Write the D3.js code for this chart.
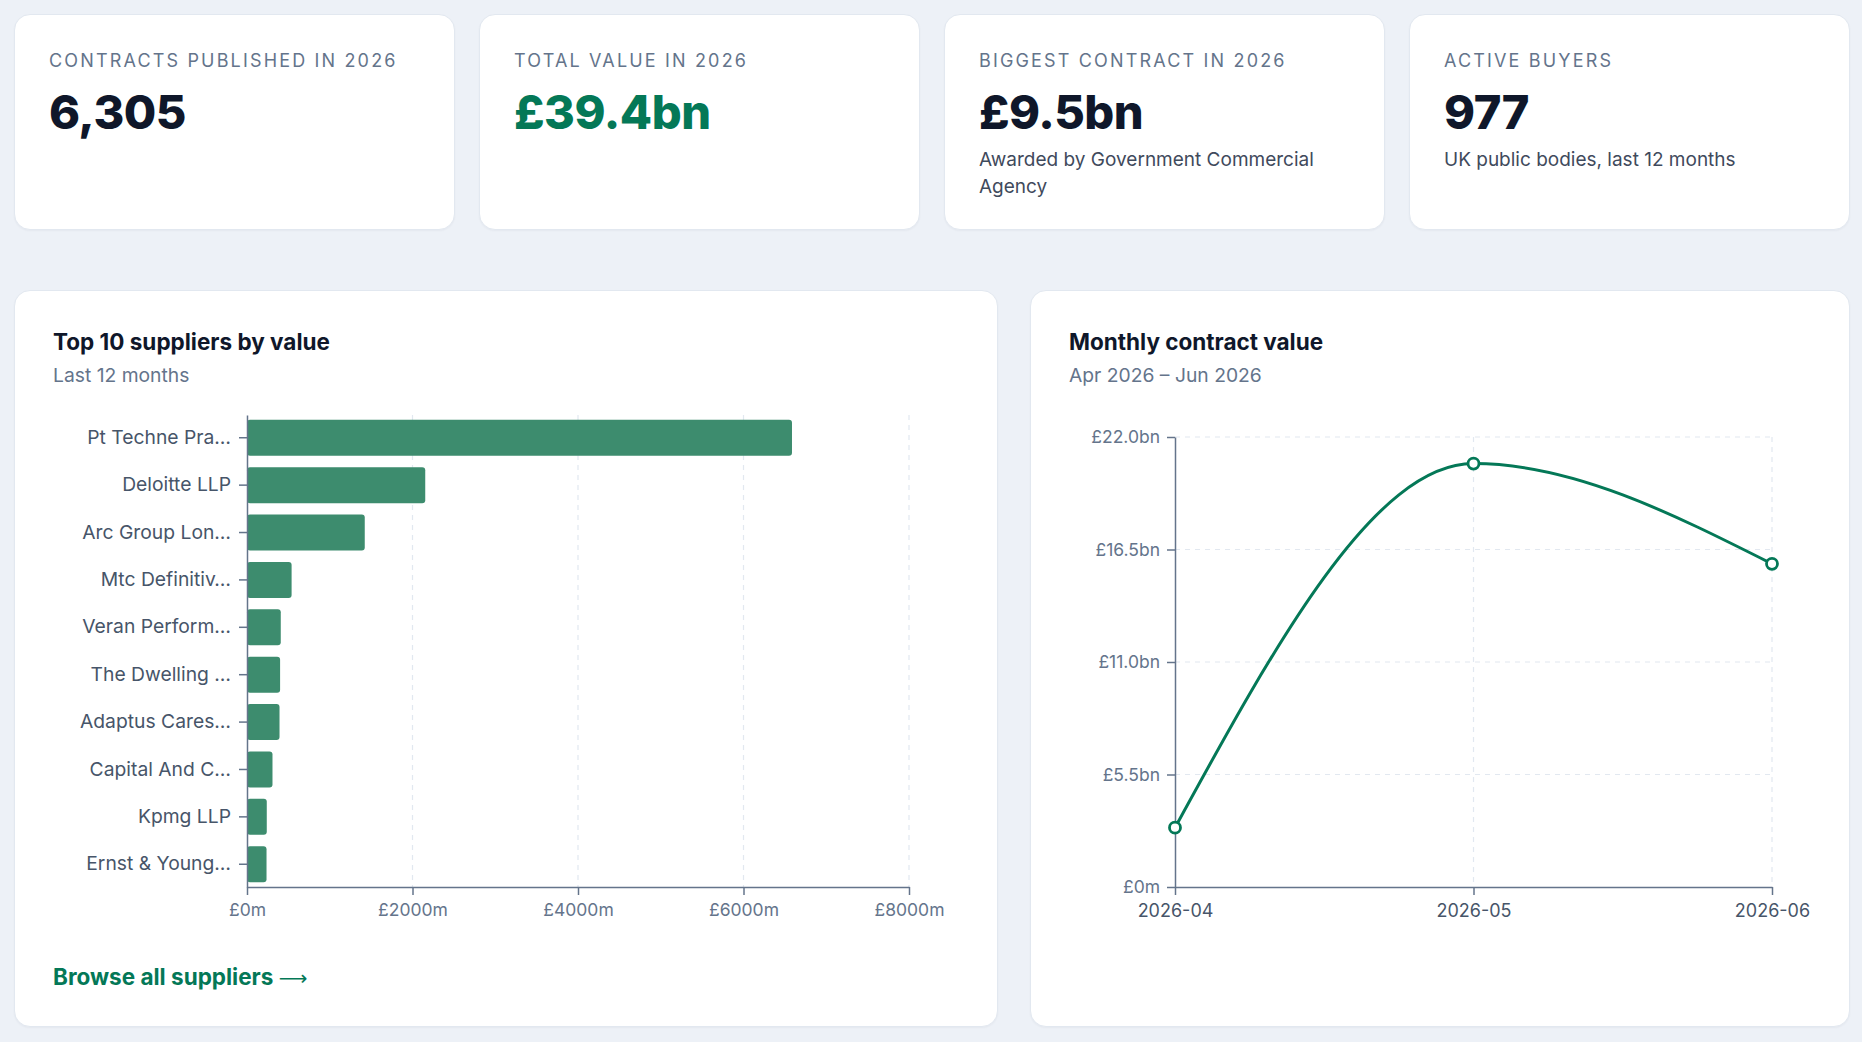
<!DOCTYPE html>
<html>
<head>
<meta charset="utf-8">
<script src="https://cdn.jsdelivr.net/npm/d3@7"></script>
<style>
  html, body { margin: 0; padding: 0; }
  body {
    background: #edf1f7;
    font-family: Inter, "Noto Sans", sans-serif;
    width: 1862px;
    height: 1042px;
    box-sizing: border-box;
    padding: 14px 12px 0 14px;
    overflow: hidden;
  }
  .stats {
    display: grid;
    grid-template-columns: repeat(4, 1fr);
    gap: 24px;
  }
  .card, .panel {
    background: #fff;
    border: 1px solid #e2e8f0;
    border-radius: 16px;
    box-shadow: 0 1px 2px rgba(15, 23, 42, 0.04);
    box-sizing: border-box;
  }
  .card { height: 216px; padding: 35px 30px 0 34px; }
  .card .label {
    font-size: 18px; line-height: 22px; color: #64748b;
    letter-spacing: 0.12em; text-transform: uppercase; white-space: nowrap;
  }
  .card .value {
    font-size: 47px; line-height: 52px; font-weight: 800; color: #0f172a;
    margin-top: 14px; letter-spacing: -0.01em;
  }
  .card .value.green { color: #047857; }
  .card .sub { font-size: 19px; line-height: 27px; color: #3f4a5c; margin-top: 8px; }
  .panels {
    display: grid;
    grid-template-columns: 1.2fr 1fr;
    gap: 32px;
    margin-top: 60px;
  }
  .panel { height: 737px; position: relative; }
  .panel svg { position: absolute; left: 0; top: 0; }
  .panel h2 { margin: 0; font-size: 22.5px; line-height: 28px; font-weight: 700; color: #0f172a; position: absolute; left: 38px; top: 37px; white-space: nowrap; }
  .panel .subtitle { font-size: 19.3px; line-height: 24px; color: #64748b; position: absolute; left: 38px; top: 72px; white-space: nowrap; }
  .panel .link { font-size: 22.5px; font-weight: 700; color: #047857; position: absolute; left: 38px; top: 672px; line-height: 28px; text-decoration: none; white-space: nowrap; }
  .panel .link .arrow { font-family: "DejaVu Sans", sans-serif; font-weight: 400; font-size: 20px; }
  .tick text { font-family: Inter, "Noto Sans", sans-serif; }
</style>
</head>
<body>
<div class="stats" id="stats"></div>
<div class="panels">
  <div class="panel" id="suppliers">
    <h2>Top 10 suppliers by value</h2>
    <div class="subtitle">Last 12 months</div>
    <a class="link" href="#">Browse all suppliers <span class="arrow">⟶</span></a>
  </div>
  <div class="panel" id="monthly">
    <h2>Monthly contract value</h2>
    <div class="subtitle">Apr 2026 – Jun 2026</div>
  </div>
</div>
<script>
// headline figures
const statLabels = ["Contracts published in 2026", "Total value in 2026", "Biggest contract in 2026", "Active buyers"];
const statValues = ["6,305", "£39.4bn", "£9.5bn", "977"];
const statNotes = ["", "", "Awarded by Government Commercial Agency", "UK public bodies, last 12 months"];

// top suppliers, £m
const supplierNames = ["Pt Techne Pra…", "Deloitte LLP", "Arc Group Lon…", "Mtc Definitiv…", "Veran Perform…",
  "The Dwelling …", "Adaptus Cares…", "Capital And C…", "Kpmg LLP", "Ernst & Young…"];
const supplierValues = [6586, 2154, 1423, 539, 408, 400, 393, 308, 239, 236];
const supplierTicks = [0, 2000, 4000, 6000, 8000];

// monthly totals, £bn
const months = ["2026-04", "2026-05", "2026-06"];
const monthValues = [2.9, 20.7, 15.8];
const monthTicks = [0, 5.5, 11, 16.5, 22];

const GREEN = "#047857";
const BAR = "#3d8c6e";
const AXIS = "#64748b";
const GRID = "#e2e8f0";

// stat cards
const cards = d3.select("#stats").selectAll(".card")
  .data(statLabels)
  .enter()
  .append("div")
  .attr("class", "card");
cards.append("div").attr("class", "label").text(d => d);
cards.append("div")
  .attr("class", (d, i) => i === 1 ? "value green" : "value")
  .text((d, i) => statValues[i]);
cards.filter((d, i) => statNotes[i] !== "")
  .append("div").attr("class", "sub").text(d => statNotes[statLabels.indexOf(d)]);

function styleAxis(g) {
  g.select(".domain").attr("stroke", AXIS).attr("stroke-width", 1.5);
  g.selectAll(".tick line").attr("stroke", AXIS).attr("stroke-width", 1.5);
  g.selectAll(".tick text").attr("fill", AXIS).attr("font-size", 17.5);
}

// bar chart of suppliers
{
  const panel = d3.select("#suppliers");
  const W = panel.node().getBoundingClientRect().width;
  const H = 737;
  const m = {top: 124, right: W - 894, bottom: 141, left: 232};
  const svg = panel.append("svg").attr("width", W).attr("height", H);

  const x = d3.scaleLinear()
    .domain([0, d3.max(supplierTicks)])
    .range([m.left, W - m.right]);
  const y = d3.scaleBand()
    .domain(supplierNames)
    .range([m.top, H - m.bottom])
    .paddingInner(0.24)
    .paddingOuter(0.1);

  // dashed vertical grid
  svg.append("g")
    .selectAll("line")
    .data(supplierTicks.slice(1))
    .enter()
    .append("line")
    .attr("x1", d => x(d)).attr("x2", d => x(d))
    .attr("y1", m.top).attr("y2", H - m.bottom)
    .attr("stroke", GRID).attr("stroke-width", 1.2)
    .attr("stroke-dasharray", "5 5");

  svg.append("g")
    .selectAll("rect")
    .data(supplierValues)
    .enter()
    .append("rect")
    .attr("x", x(0))
    .attr("y", (d, i) => y(supplierNames[i]))
    .attr("width", d => x(d) - x(0))
    .attr("height", y.bandwidth())
    .attr("rx", 3)
    .attr("fill", BAR);

  svg.append("g")
    .attr("transform", `translate(0, ${H - m.bottom})`)
    .call(d3.axisBottom(x).tickValues(supplierTicks).tickFormat(d => `£${d}m`)
      .tickSize(8).tickSizeOuter(0).tickPadding(9))
    .call(styleAxis);

  svg.append("g")
    .attr("transform", `translate(${m.left}, 0)`)
    .call(d3.axisLeft(y).tickSize(8).tickSizeOuter(0).tickPadding(8))
    .call(styleAxis)
    .call(g => g.selectAll(".tick text").attr("fill", "#475569").attr("font-size", 19.3));
}

// line chart of monthly value
{
  const panel = d3.select("#monthly");
  const W = panel.node().getBoundingClientRect().width;
  const H = 737;
  const m = {top: 146, right: W - 741, bottom: 141, left: 144};
  const svg = panel.append("svg").attr("width", W).attr("height", H);

  const x = d3.scalePoint()
    .domain(months)
    .range([m.left, W - m.right]);
  const y = d3.scaleLinear()
    .domain([0, d3.max(monthTicks)])
    .range([H - m.bottom, m.top]);

  const grid = svg.append("g")
    .attr("stroke", GRID).attr("stroke-width", 1.2)
    .attr("stroke-dasharray", "5 5");
  grid.selectAll(".h")
    .data(monthTicks.slice(1))
    .enter()
    .append("line")
    .attr("x1", m.left).attr("x2", W - m.right)
    .attr("y1", d => y(d)).attr("y2", d => y(d));
  grid.selectAll(".v")
    .data(months.slice(1))
    .enter()
    .append("line")
    .attr("x1", d => x(d)).attr("x2", d => x(d))
    .attr("y1", m.top).attr("y2", H - m.bottom);

  svg.append("g")
    .attr("transform", `translate(0, ${H - m.bottom})`)
    .call(d3.axisBottom(x).tickSize(8).tickSizeOuter(0).tickPadding(9))
    .call(styleAxis)
    .call(g => g.selectAll(".tick text").attr("fill", "#475569").attr("font-size", 18));

  svg.append("g")
    .attr("transform", `translate(${m.left}, 0)`)
    .call(d3.axisLeft(y).tickValues(monthTicks)
      .tickFormat(d => d === 0 ? "£0m" : `£${d.toFixed(1)}bn`)
      .tickSize(8).tickSizeOuter(0).tickPadding(7))
    .call(styleAxis);

  const line = d3.line()
    .x((d, i) => x(months[i]))
    .y(d => y(d))
    .curve(d3.curveMonotoneX);

  svg.append("path")
    .datum(monthValues)
    .attr("d", line)
    .attr("fill", "none")
    .attr("stroke", GREEN)
    .attr("stroke-width", 3);

  svg.append("g")
    .selectAll("circle")
    .data(monthValues)
    .enter()
    .append("circle")
    .attr("cx", (d, i) => x(months[i]))
    .attr("cy", d => y(d))
    .attr("r", 5.5)
    .attr("fill", "#fff")
    .attr("stroke", GREEN)
    .attr("stroke-width", 2.8);
}
</script>
</body>
</html>
